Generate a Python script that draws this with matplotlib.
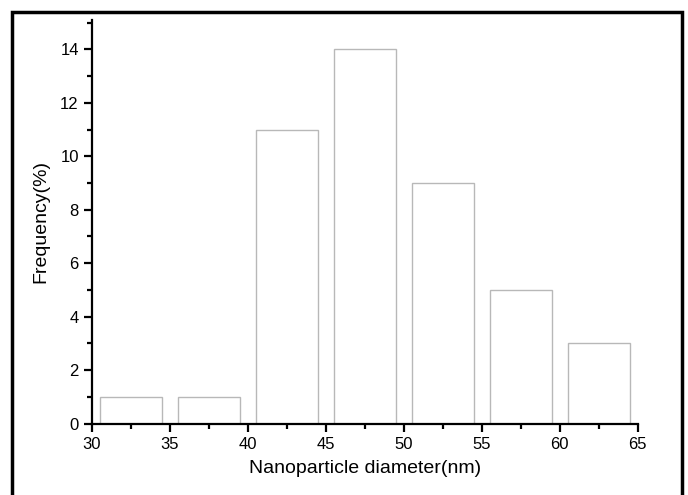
import matplotlib
matplotlib.use('Agg')
import matplotlib.pyplot as plt
from matplotlib.patches import Rectangle
from matplotlib.ticker import MultipleLocator

plt.rcParams['font.family'] = ['Liberation Sans', 'DejaVu Sans']

# histogram bins (centres) and frequencies
bin_centres = [32.5, 37.5, 42.5, 47.5, 52.5, 57.5, 62.5]
frequency = [1, 1, 11, 14, 9, 5, 3]
bar_width = 4

fig = plt.figure(figsize=(6.88, 4.95), dpi=100)
ax = fig.add_axes([0.1337, 0.1444, 0.7933, 0.8152])

ax.bar(bin_centres, frequency, width=bar_width, color='white',
       edgecolor='#b8b8b8', linewidth=1.0)

ax.set_xlim(30, 65)
ax.set_ylim(0, 15.1)
ax.xaxis.set_major_locator(MultipleLocator(5))
ax.xaxis.set_minor_locator(MultipleLocator(2.5))
ax.yaxis.set_major_locator(MultipleLocator(2))
ax.yaxis.set_minor_locator(MultipleLocator(1))

for s in ['top', 'right']:
    ax.spines[s].set_visible(False)
for s in ['left', 'bottom']:
    ax.spines[s].set_linewidth(1.6)

ax.tick_params(which='major', direction='out', length=6, width=1.6, labelsize=12)
ax.tick_params(which='minor', direction='out', length=3.5, width=1.6)

ax.set_xlabel('Nanoparticle diameter(nm)', fontsize=14, labelpad=6)
ax.set_ylabel('Frequency(%)', fontsize=14, labelpad=8)

# black frame around the whole picture
fig.patches.append(Rectangle((12 / 688, -0.05), 670 / 688, 1.05 - 12 / 495,
                             transform=fig.transFigure, fill=False,
                             edgecolor='black', linewidth=2.5))

fig.savefig('out.png', dpi=100)
